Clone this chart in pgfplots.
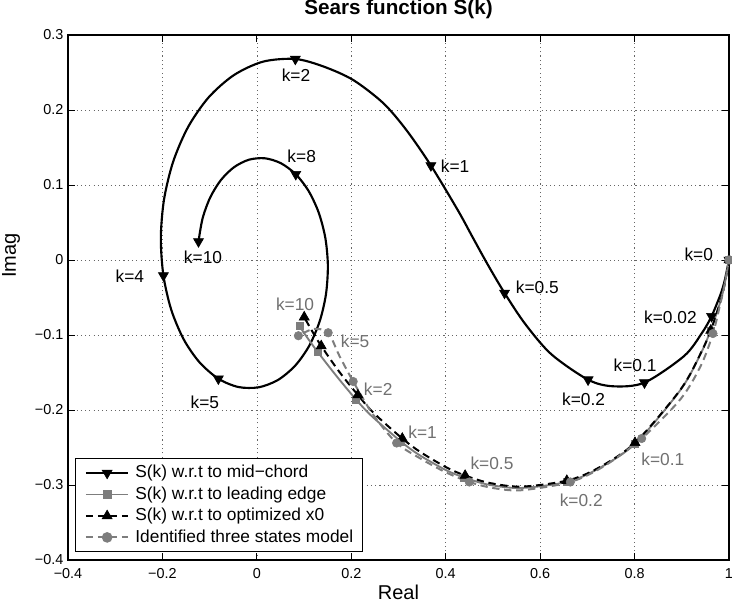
\documentclass[border=0pt]{standalone}
\usepackage{pgfplots}
\pgfplotsset{compat=1.18}
\usepackage{fontspec}
\setmainfont{Liberation Sans}
\definecolor{mgray}{RGB}{125,125,125}
\definecolor{lgray}{RGB}{112,112,112}
\newcommand{\klab}{\fontsize{13}{15}\selectfont}
\newcommand{\lstrut}{\rule[-4.4pt]{0pt}{16.1pt}}

\begin{document}
\begin{tikzpicture}
\useasboundingbox (-51pt,-33.75pt) rectangle (498pt,420pt);
\begin{axis}[
  at={(0pt,0pt)}, anchor=south west,
  scale only axis, width=495.75pt, height=393.75pt,
  xmin=-0.4, xmax=1, ymin=-0.4, ymax=0.3,
  clip=false,
  xtick={-0.4,-0.2,0,0.2,0.4,0.6,0.8,1},
  xticklabels={−0.4,−0.2,0,0.2,0.4,0.6,0.8,1},
  ytick={-0.4,-0.3,-0.2,-0.1,0,0.1,0.2,0.3},
  yticklabels={−0.4,−0.3,−0.2,−0.1,0,0.1,0.2,0.3},
  tick label style={font=\fontsize{10.8}{13}\selectfont},
  xticklabel style={yshift=-3pt},
  tick align=inside, major tick length=5pt,
  tick style={line width=0.7pt, black},
  grid=major,
  major grid style={black!60, line width=0.5pt, dash pattern=on 0.8pt off 2.4pt},
  axis line style={line width=0.9pt},
  title={Sears function S(k)},
  title style={font=\fontsize{15.5}{18}\selectfont\bfseries, at={(0.5,1.0236)}, anchor=base},
  xlabel={Real},
  xlabel style={font=\fontsize{15}{18}\selectfont, at={(0.5,-0.0762)}, anchor=base},
  legend image code/.code={\draw[mark repeat=2,mark phase=2,#1] plot coordinates {(0pt,0pt) (15.9pt,0pt) (31.8pt,0pt)};},
  legend cell align=left,
  legend style={at={(0.0106,0.0152)}, anchor=south west, draw=black, line width=0.8pt,
    fill=white, font=\fontsize{13}{16.1}\selectfont, inner xsep=7pt, inner ysep=2.5pt,
    column sep=4.5pt, row sep=0pt, nodes={inner sep=0pt, text depth=4.4pt}},
]

% ---- S(k) w.r.t. mid-chord ----
\addplot[black, line width=1.6pt, smooth, forget plot] coordinates {
(1.000,0.000) (0.991,-0.027) (0.982,-0.046) (0.963,-0.075) (0.943,-0.097)
(0.905,-0.128) (0.821,-0.1635) (0.7545,-0.1684) (0.7015,-0.1596) (0.6235,-0.1256)
(0.568,-0.085) (0.5246,-0.044) (0.488,-0.005) (0.456,0.0315) (0.426,0.066)
(0.3686,0.126) (0.317,0.173) (0.268,0.209) (0.204,0.240) (0.141,0.258)
(0.0815,0.268) (0.0134,0.2645) (-0.0484,0.2466) (-0.1019,0.2170) (-0.1452,0.1778)
(-0.1770,0.1316) (-0.1965,0.0811) (-0.2034,0.0295) (-0.1979,-0.0207) (-0.1812,-0.0666)
(-0.1547,-0.1061) (-0.1216,-0.1363) (-0.0815,-0.1583) (-0.0389,-0.1694) (0.0042,-0.1697)
(0.0449,-0.1599) (0.0813,-0.1408) (0.1109,-0.1144) (0.1332,-0.0815) (0.1464,-0.0456)
(0.1504,-0.0076) (0.1451,0.0292) (0.1311,0.0630) (0.1097,0.0919) (0.0824,0.1143)
(0.0507,0.1291) (0.0170,0.1356) (-0.0168,0.1337) (-0.0486,0.1236) (-0.0765,0.1063)
(-0.0991,0.0830) (-0.1150,0.0553) (-0.1236,0.0247)
};
\addplot[only marks, black, mark=triangle*, mark size=4.3pt,
  mark options={rotate=180, fill=black, line width=0.5pt}, forget plot] coordinates {
(1.000,0.000) (0.963,-0.075) (0.821,-0.1635) (0.7015,-0.1596) (0.5246,-0.044)
(0.3686,0.126) (0.0815,0.268) (-0.1979,-0.0207) (-0.0815,-0.1583) (0.0824,0.1143)
(-0.1236,0.0247)
};

% ---- S(k) w.r.t. leading edge ----
\addplot[mgray, line width=1.4pt, smooth, forget plot] coordinates {
(1.000,0.000) (0.991,-0.0316) (0.9815,-0.056) (0.961,-0.094) (0.940,-0.125)
(0.8975,-0.173) (0.801,-0.245) (0.721,-0.279) (0.656,-0.296) (0.559,-0.304)
(0.490,-0.2995) (0.439,-0.290) (0.400,-0.280) (0.344,-0.260) (0.305,-0.242)
(0.243,-0.208) (0.210,-0.186) (0.169,-0.155) (0.129,-0.1227) (0.108,-0.1046)
(0.090,-0.088)
};
\addplot[only marks, mgray, mark=square*, mark size=2.6pt,
  mark options={fill=mgray}, forget plot] coordinates {
(1.000,0.000) (0.961,-0.094) (0.801,-0.245) (0.656,-0.296) (0.439,-0.290)
(0.305,-0.242) (0.210,-0.186) (0.129,-0.1227) (0.090,-0.088)
};

% ---- S(k) w.r.t. optimized x0 ----
\addplot[black, line width=1.5pt, dash pattern=on 5.5pt off 3.5pt, smooth, forget plot] coordinates {
(1.000,0.000) (0.991,-0.0315) (0.9815,-0.0557) (0.9613,-0.094) (0.9397,-0.1249)
(0.8976,-0.1725) (0.8009,-0.2437) (0.7214,-0.2779) (0.6565,-0.2942) (0.5597,-0.3022)
(0.4915,-0.2971) (0.4411,-0.2874) (0.4020,-0.2767) (0.3467,-0.2562) (0.308,-0.238)
(0.2471,-0.2038) (0.214,-0.180) (0.1746,-0.1491) (0.1363,-0.1146) (0.1170,-0.0948)
(0.1003,-0.0762)
};
\addplot[only marks, black, mark=triangle*, mark size=4.3pt,
  mark options={fill=black, line width=0.5pt}, forget plot] coordinates {
(1.000,0.000) (0.9613,-0.094) (0.8009,-0.2437) (0.6565,-0.2942) (0.4411,-0.2874)
(0.308,-0.238) (0.214,-0.180) (0.1363,-0.1146) (0.1003,-0.0762)
};

% ---- Identified three states model ----
\addplot[mgray, line width=1.5pt, dash pattern=on 5.5pt off 3.5pt, smooth, forget plot] coordinates {
(1.000,0.000) (0.990,-0.035) (0.981,-0.060) (0.966,-0.098) (0.941,-0.140)
(0.898,-0.185) (0.815,-0.238) (0.735,-0.275) (0.664,-0.296) (0.560,-0.307)
(0.500,-0.304) (0.450,-0.296) (0.400,-0.283) (0.350,-0.266) (0.296,-0.244)
(0.245,-0.205) (0.204,-0.162) (0.175,-0.128) (0.151,-0.097) (0.120,-0.092)
(0.088,-0.101)
};
\addplot[only marks, mgray, mark=*, mark size=3.2pt,
  mark options={fill=mgray}, forget plot] coordinates {
(1.000,0.000) (0.966,-0.098) (0.815,-0.238) (0.664,-0.296) (0.450,-0.296)
(0.296,-0.244) (0.204,-0.162) (0.151,-0.097) (0.088,-0.101)
};

% ---- legend ----
\addlegendimage{black, line width=1.6pt, mark=triangle*, mark size=4.3pt, mark options={rotate=180, fill=black, solid, line width=0.5pt}}
\addlegendentry{\lstrut S(k) w.r.t to mid−chord}
\addlegendimage{mgray, line width=1.4pt, mark=square*, mark size=2.6pt, mark options={fill=mgray, solid}}
\addlegendentry{\lstrut S(k) w.r.t to leading edge}
\addlegendimage{black, line width=1.5pt, dash pattern=on 5.5pt off 3.5pt, mark=triangle*, mark size=4.3pt, mark options={fill=black, solid, line width=0.5pt}}
\addlegendentry{\lstrut S(k) w.r.t to optimized x0}
\addlegendimage{mgray, line width=1.5pt, dash pattern=on 5.5pt off 3.5pt, mark=*, mark size=3.2pt, mark options={fill=mgray, solid}}
\addlegendentry{\lstrut Identified three states model}

% ---- y label ----
\node[rotate=90, anchor=base, font=\fontsize{15}{18}\selectfont] at (rel axis cs:-0.079,0.58) {Imag};

% ---- black labels ----
\node[font=\klab] at (axis cs:0.083,0.247) {k=2};
\node[font=\klab] at (axis cs:0.095,0.138) {k=8};
\node[font=\klab] at (axis cs:0.420,0.125) {k=1};
\node[font=\klab] at (axis cs:-0.114,0.004) {k=10};
\node[font=\klab] at (axis cs:-0.269,-0.022) {k=4};
\node[font=\klab] at (axis cs:-0.110,-0.190) {k=5};
\node[font=\klab] at (axis cs:0.594,-0.036) {k=0.5};
\node[font=\klab] at (axis cs:0.801,-0.140) {k=0.1};
\node[font=\klab] at (axis cs:0.692,-0.186) {k=0.2};
\node[font=\klab] at (axis cs:0.876,-0.076) {k=0.02};
\node[font=\klab] at (axis cs:0.936,0.008) {k=0};

% ---- gray labels ----
\node[font=\klab, text=lgray] at (axis cs:0.081,-0.059) {k=10};
\node[font=\klab, text=lgray] at (axis cs:0.208,-0.109) {k=5};
\node[font=\klab, text=lgray] at (axis cs:0.257,-0.172) {k=2};
\node[font=\klab, text=lgray] at (axis cs:0.351,-0.230) {k=1};
\node[font=\klab, text=lgray] at (axis cs:0.498,-0.271) {k=0.5};
\node[font=\klab, text=lgray] at (axis cs:0.687,-0.321) {k=0.2};
\node[font=\klab, text=lgray] at (axis cs:0.860,-0.266) {k=0.1};
\end{axis}
\end{tikzpicture}
\end{document}
